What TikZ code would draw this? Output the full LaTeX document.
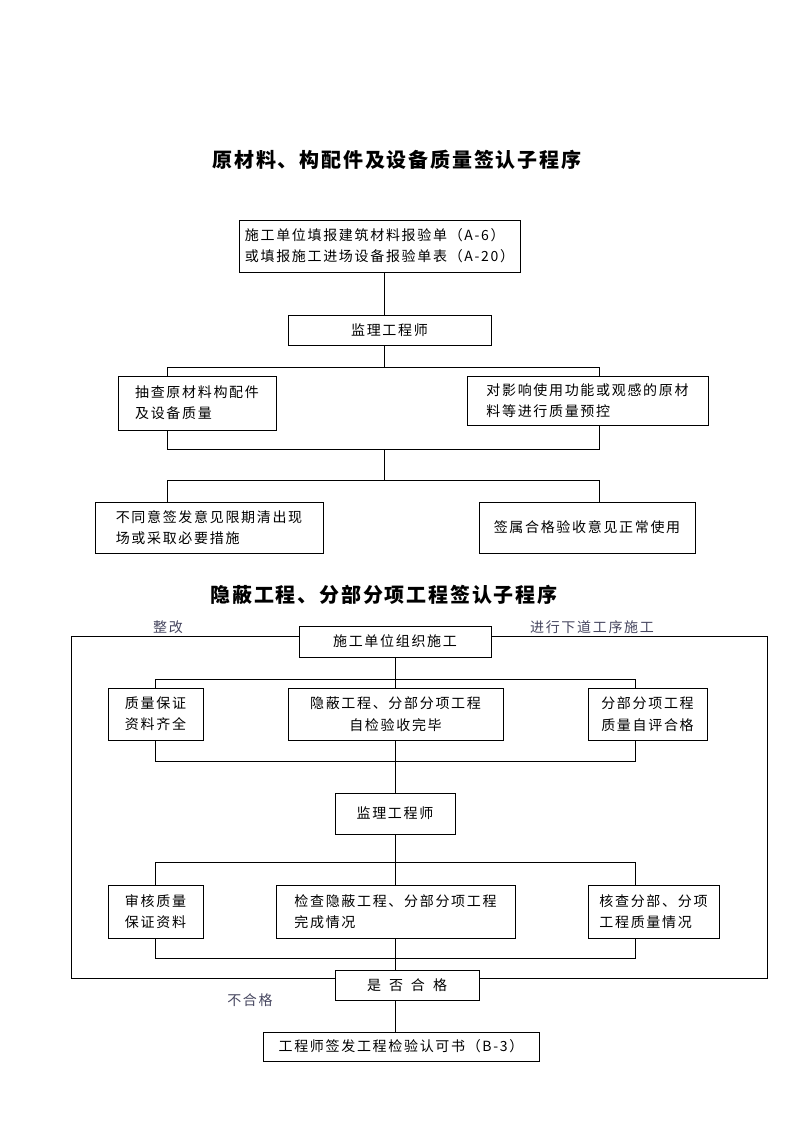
\documentclass[tikz,border=0pt]{standalone}
\usepackage{fontspec}
\usepackage{xcolor}
\usepackage{tikz}
\newfontfamily\cjk[LetterSpace=12]{Noto Sans CJK SC}
\newfontfamily\cjktitle[LetterSpace=9]{Noto Sans CJK SC}
\definecolor{notegray}{RGB}{70,70,95}

\begin{document}
\begin{tikzpicture}[x=0.75pt,y=-0.75pt]
            \tikzset{box/.style = {draw, line width=0.6pt, inner sep=0pt, font=\cjk\fontsize{10.5}{16}\selectfont}}
            \tikzset{cbox/.style = {box, minimum width=#1, align=center}}
            \tikzset{lbox/.style = {box, minimum width=#1, align=left}}
            \tikzset{edge/.style = {-, line width=0.6pt}}
            \tikzset{title/.style = {font=\cjktitle\bfseries\fontsize{15}{18}\selectfont}}
            \tikzset{note/.style = {text=notegray, font=\cjk\fontsize{10.5}{14}\selectfont}}

            \useasboundingbox (0,0) rectangle (794,1123);

            % titles
            \node[title] (title1) at (397,160) {原材料、构配件及设备质量签认子程序};
            \node[title] (title2) at (384,595) {隐蔽工程、分部分项工程签认子程序};

            % first procedure
            \node[lbox=210.75pt, minimum height=39pt] (report) at (379.5,246)
              {施工单位填报建筑材料报验单（A-6）\\或填报施工进场设备报验单表（A-20）};
            \node[cbox=152.25pt, minimum height=22.5pt] (engineer1) at (389.5,330) {监理工程师};
            \node[lbox=118.5pt, minimum height=40.5pt] (sample) at (197,403)
              {抽查原材料构配件\\及设备质量};
            \node[lbox=180.75pt, minimum height=36.75pt] (control) at (587.5,400.5)
              {对影响使用功能或观感的原材\\料等进行质量预控};
            \node[lbox=171pt, minimum height=38.25pt] (reject) at (209,527.5)
              {不同意签发意见限期清出现\\场或采取必要措施};
            \node[cbox=162pt, minimum height=38.25pt] (accept) at (587,527.5) {签属合格验收意见正常使用};

            % second procedure
            \node[cbox=144pt, minimum height=23.25pt] (organize) at (395,641.5) {施工单位组织施工};
            \node[cbox=71.25pt, minimum height=39pt] (docs) at (155.5,714) {质量保证\\资料齐全};
            \node[cbox=161.25pt, minimum height=39pt] (selfcheck) at (395.5,714)
              {隐蔽工程、分部分项工程\\自检验收完毕};
            \node[cbox=89.25pt, minimum height=39pt] (selfeval) at (647.5,714) {分部分项工程\\质量自评合格};
            \node[cbox=90pt, minimum height=30.75pt] (engineer2) at (395,813.5) {监理工程师};
            \node[cbox=71.25pt, minimum height=39.75pt] (review) at (155.5,911.5) {审核质量\\保证资料};
            \node[lbox=179.25pt, minimum height=39.75pt] (inspect) at (395.5,911.5)
              {检查隐蔽工程、分部分项工程\\完成情况};
            \node[lbox=98.25pt, minimum height=39.75pt] (verify) at (653.5,911.5)
              {核查分部、分项\\工程质量情况};
            \node[cbox=108pt, minimum height=22.5pt] (qualified) at (407,985) {是\hspace{6pt}否\hspace{6pt}合\hspace{6pt}格};
            \node[cbox=207pt, minimum height=21.75pt] (permit) at (401,1046.5) {工程师签发工程检验认可书（B-3）};

            % labels
            \node[note] (rectify) at (168,627) {整改};
            \node[note] (nextstep) at (592,627) {进行下道工序施工};
            \node[note] (failed) at (250,1000) {不合格};

            % junctions
            \coordinate (axis1) at (384,0);
            \coordinate (axis2) at (395,0);
            \coordinate (s1L) at (167,367);  \coordinate (s1R) at (599,367);
            \coordinate (m1L) at (167,449);  \coordinate (m1R) at (599,449);
            \coordinate (s2L) at (167,480);  \coordinate (s2R) at (599,480);
            \coordinate (s3L) at (155,679);  \coordinate (s3R) at (635,679);
            \coordinate (m3L) at (155,761);  \coordinate (m3R) at (635,761);
            \coordinate (s4L) at (155,862);  \coordinate (s4R) at (635,862);
            \coordinate (m4L) at (155,958);  \coordinate (m4R) at (635,958);
            \coordinate (tl) at (71,636);    \coordinate (tr) at (767,636);
            \coordinate (bl) at (71,978);    \coordinate (br) at (767,978);

            % edges
            \draw[edge] (report.south -| axis1) -- (engineer1.north -| axis1);
            \draw[edge] (engineer1.south -| axis1) -- (s1L -| axis1);
            \draw[edge] (sample.north -| s1L) -- (s1L) -- (s1R) -- (control.north -| s1R);
            \draw[edge] (sample.south -| m1L) -- (m1L) -- (m1R) -- (control.south -| m1R);
            \draw[edge] (m1L -| axis1) -- (s2L -| axis1);
            \draw[edge] (reject.north -| s2L) -- (s2L) -- (s2R) -- (accept.north -| s2R);

            \draw[edge] (organize.south -| axis2) -- (s3L -| axis2);
            \foreach \l/\m/\r/\s/\e in {docs/selfcheck/selfeval/s3/m3, review/inspect/verify/s4/m4}
            {
              \draw[edge] (\l.north -| \s L) -- (\s L) -- (\s R) -- (\r.north -| \s R);
              \draw[edge] (\s L -| axis2) -- (\m.north -| axis2);
              \draw[edge] (\l.south -| \e L) -- (\e L) -- (\e R) -- (\r.south -| \e R);
            }
            \draw[edge] (selfcheck.south -| axis2) -- (engineer2.north -| axis2);
            \draw[edge] (engineer2.south -| axis2) -- (s4L -| axis2);
            \draw[edge] (inspect.south -| axis2) -- (qualified.north -| axis2);
            \draw[edge] (qualified.south -| axis2) -- (permit.north -| axis2);

            % loop back
            \draw[edge] (organize.west |- tl) -- (tl) -- (bl) -- (qualified.west |- bl);
            \draw[edge] (organize.east |- tr) -- (tr) -- (br) -- (qualified.east |- br);

          \end{tikzpicture}
\end{document}
